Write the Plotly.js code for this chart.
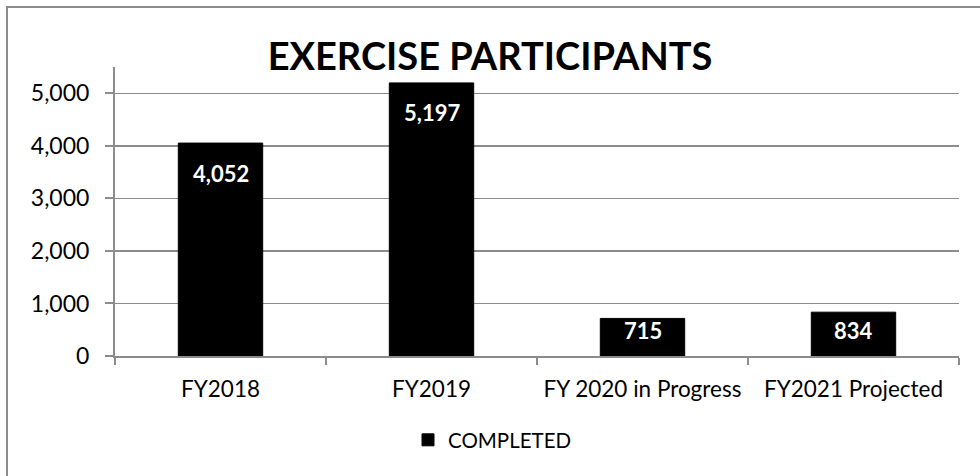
<!DOCTYPE html>
<html>
<head>
<meta charset="utf-8">
<script src="https://cdn.plot.ly/plotly-3.0.1.min.js"></script>
<style>
  html, body { margin: 0; padding: 0; background: #fff; }
  #wrap { position: relative; width: 980px; height: 476px; overflow: hidden; }
  #chart { position: absolute; left: 0; top: 0; width: 980px; height: 476px; }
  #frame { position: absolute; left: 6px; top: 6px; width: 1000px; height: 500px;
           border: 2px solid #8c8c8c; pointer-events: none; }
</style>
</head>
<body>
<div id="wrap">
  <div id="chart"></div>
  <div id="frame"></div>
</div>
<script>
const categories = ["FY2018", "FY2019", "FY 2020 in Progress", "FY2021 Projected"];
const completed = [4052, 5197, 715, 834];
const labels = ["4,052", "5,197", "715", "834"];
const seriesName = "COMPLETED";
const yTickVals = [0, 1000, 2000, 3000, 4000, 5000];
const yTickText = ["0", "1,000", "2,000", "3,000", "4,000", "5,000"];
const chartTitle = "EXERCISE PARTICIPANTS";

const FONT = "Lato, 'Open Sans', sans-serif";
const M = { l: 115, r: 21, t: 67, b: 120 };
const H = 476;
const yMax = 5500;
const pxPerUnit = (H - M.t - M.b) / yMax;

const annotations = completed.map((v, i) => {
  const barPx = v * pxPerUnit;
  return {
    x: categories[i], y: v, xref: "x", yref: "y",
    text: "<b>" + labels[i] + "</b>",
    showarrow: false, yanchor: "middle",
    yshift: -Math.min(30, barPx - 26),
    font: { family: FONT, size: 22, color: "#ffffff" }
  };
});

const trace = {
  type: "bar",
  x: categories,
  y: completed,
  name: seriesName,
  marker: { color: "#000000", line: { color: "#000000", width: 1 } },
  width: 0.4,
  hoverinfo: "skip"
};

const layout = {
  width: 980, height: 476,
  margin: M,
  paper_bgcolor: "#ffffff",
  plot_bgcolor: "#ffffff",
  font: { family: FONT, color: "#000000" },
  title: {
    text: "<b>" + chartTitle + "</b>",
    font: { family: FONT, size: 38, color: "#000000" },
    x: 0.5, xref: "container", xanchor: "center",
    y: 1 - 57 / H, yref: "container", yanchor: "middle"
  },
  xaxis: {
    type: "category",
    range: [-0.5, 3.5],
    showline: true, linecolor: "#8c8c8c", linewidth: 2,
    ticks: "outside", tickson: "boundaries", ticklen: 7, tickcolor: "#8c8c8c", tickwidth: 2,
    showgrid: false,
    ticklabelstandoff: 12,
    tickfont: { family: FONT, size: 22.5, color: "#000000" },
    fixedrange: true
  },
  yaxis: {
    range: [0, yMax],
    tickvals: yTickVals, ticktext: yTickText,
    showline: true, linecolor: "#8c8c8c", linewidth: 2,
    ticks: "outside", ticklen: 8, tickcolor: "#8c8c8c", tickwidth: 2,
    showgrid: true, gridcolor: "#8c8c8c", gridwidth: 1.5,
    zeroline: false,
    ticklabelstandoff: 11,
    tickfont: { family: FONT, size: 23, color: "#000000" },
    fixedrange: true
  },
  showlegend: true,
  legend: {
    orientation: "h",
    x: 408 / 980, xanchor: "left", xref: "container",
    y: (H - 440) / H, yref: "container", yanchor: "middle",
    font: { family: FONT, size: 20.5, color: "#000000" }
  },
  annotations: annotations,
  bargap: 0.6
};

Plotly.newPlot("chart", [trace], layout, { displayModeBar: false, staticPlot: true });
</script>
</body>
</html>
